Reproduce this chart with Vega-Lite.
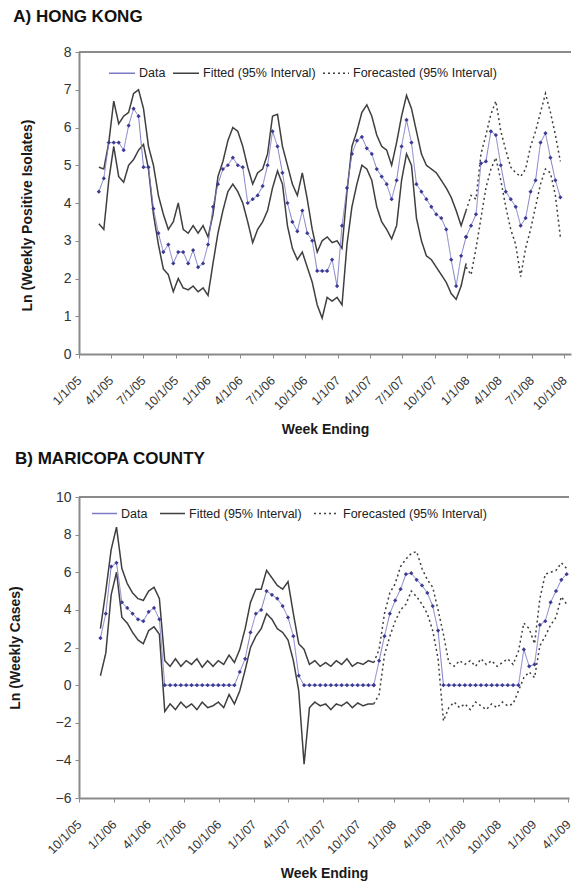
{
  "$schema": "https://vega.github.io/schema/vega-lite/v6.json",
  "background": "#ffffff",
  "padding": {"left": 8, "top": 8, "right": 0, "bottom": 0},
  "spacing": 13,
  "config": {
    "font": "Liberation Sans",
    "view": {"stroke": null},
    "axis": {"domainColor": "#8a8a8a", "domainWidth": 2, "tickColor": "#8a8a8a", "tickWidth": 1, "tickSize": 4, "labelColor": "#333333", "labelFont": "Liberation Sans", "titleFont": "Liberation Sans", "titleFontWeight": "bold", "titleFontSize": 14, "titleColor": "#1a1a1a", "grid": false, "labelFontSize": 12},
    "axisX": {"labelFontSize": 12.5, "labelPadding": 20},
    "legend": {"labelFont": "Liberation Sans", "labelFontSize": 12.5, "labelColor": "#222222"},
    "title": {"font": "Liberation Sans", "fontSize": 17, "fontWeight": "bold", "color": "#111111", "anchor": "start", "frame": "bounds"}
  },
  "resolve": {"scale": {"x": "independent", "y": "independent", "color": "independent", "strokeDash": "independent"}, "legend": {"color": "independent", "strokeDash": "independent"}},
  "datasets": {
    "A": [
      {"d":"2005-02-26","y":4.3,"l":3.45,"h":4.95,"k":"F"},
      {"d":"2005-03-12","y":4.65,"l":3.3,"h":4.9,"k":"F"},
      {"d":"2005-03-26","y":5.6,"l":4.6,"h":5.6,"k":"F"},
      {"d":"2005-04-09","y":5.6,"l":5.5,"h":6.7,"k":"F"},
      {"d":"2005-04-23","y":5.6,"l":4.7,"h":6.1,"k":"F"},
      {"d":"2005-05-07","y":5.4,"l":4.55,"h":6.3,"k":"F"},
      {"d":"2005-05-21","y":6.05,"l":5.0,"h":6.4,"k":"F"},
      {"d":"2005-06-04","y":6.5,"l":5.15,"h":6.9,"k":"F"},
      {"d":"2005-06-18","y":6.3,"l":5.4,"h":7.0,"k":"F"},
      {"d":"2005-07-02","y":4.95,"l":5.55,"h":6.5,"k":"F"},
      {"d":"2005-07-16","y":4.95,"l":4.9,"h":5.5,"k":"F"},
      {"d":"2005-07-30","y":3.85,"l":3.7,"h":5.0,"k":"F"},
      {"d":"2005-08-13","y":3.2,"l":2.9,"h":4.2,"k":"F"},
      {"d":"2005-08-27","y":2.7,"l":2.25,"h":3.7,"k":"F"},
      {"d":"2005-09-10","y":2.9,"l":2.1,"h":3.3,"k":"F"},
      {"d":"2005-09-24","y":2.4,"l":1.65,"h":3.5,"k":"F"},
      {"d":"2005-10-08","y":2.7,"l":2.0,"h":4.0,"k":"F"},
      {"d":"2005-10-22","y":2.7,"l":1.75,"h":3.3,"k":"F"},
      {"d":"2005-11-05","y":2.4,"l":1.7,"h":3.2,"k":"F"},
      {"d":"2005-11-19","y":2.75,"l":1.8,"h":3.4,"k":"F"},
      {"d":"2005-12-03","y":2.3,"l":1.65,"h":3.2,"k":"F"},
      {"d":"2005-12-17","y":2.4,"l":1.75,"h":3.4,"k":"F"},
      {"d":"2005-12-31","y":2.9,"l":1.55,"h":3.1,"k":"F"},
      {"d":"2006-01-14","y":3.9,"l":2.4,"h":3.7,"k":"F"},
      {"d":"2006-01-28","y":4.5,"l":3.2,"h":4.7,"k":"F"},
      {"d":"2006-02-11","y":4.9,"l":3.8,"h":5.1,"k":"F"},
      {"d":"2006-02-25","y":5.0,"l":4.3,"h":5.65,"k":"F"},
      {"d":"2006-03-11","y":5.2,"l":4.5,"h":6.0,"k":"F"},
      {"d":"2006-03-25","y":5.0,"l":4.3,"h":5.9,"k":"F"},
      {"d":"2006-04-08","y":4.95,"l":4.0,"h":5.5,"k":"F"},
      {"d":"2006-04-22","y":4.0,"l":3.5,"h":4.95,"k":"F"},
      {"d":"2006-05-06","y":4.1,"l":2.95,"h":4.5,"k":"F"},
      {"d":"2006-05-20","y":4.2,"l":3.3,"h":4.8,"k":"F"},
      {"d":"2006-06-03","y":4.45,"l":3.5,"h":4.9,"k":"F"},
      {"d":"2006-06-17","y":5.0,"l":3.8,"h":5.3,"k":"F"},
      {"d":"2006-07-01","y":5.9,"l":4.4,"h":6.3,"k":"F"},
      {"d":"2006-07-15","y":5.5,"l":4.85,"h":6.35,"k":"F"},
      {"d":"2006-07-29","y":4.8,"l":4.5,"h":5.5,"k":"F"},
      {"d":"2006-08-12","y":4.0,"l":3.4,"h":5.0,"k":"F"},
      {"d":"2006-08-26","y":3.5,"l":2.8,"h":4.5,"k":"F"},
      {"d":"2006-09-09","y":3.25,"l":2.5,"h":4.2,"k":"F"},
      {"d":"2006-09-23","y":3.8,"l":2.7,"h":4.8,"k":"F"},
      {"d":"2006-10-07","y":3.2,"l":2.3,"h":4.1,"k":"F"},
      {"d":"2006-10-21","y":3.0,"l":1.9,"h":3.3,"k":"F"},
      {"d":"2006-11-04","y":2.2,"l":1.3,"h":2.7,"k":"F"},
      {"d":"2006-11-18","y":2.2,"l":0.95,"h":3.0,"k":"F"},
      {"d":"2006-12-02","y":2.2,"l":1.5,"h":3.1,"k":"F"},
      {"d":"2006-12-16","y":2.5,"l":1.4,"h":2.95,"k":"F"},
      {"d":"2006-12-30","y":1.8,"l":1.5,"h":3.0,"k":"F"},
      {"d":"2007-01-13","y":3.4,"l":1.3,"h":2.8,"k":"F"},
      {"d":"2007-01-27","y":4.4,"l":2.9,"h":4.3,"k":"F"},
      {"d":"2007-02-10","y":5.3,"l":3.9,"h":5.5,"k":"F"},
      {"d":"2007-02-24","y":5.65,"l":4.5,"h":5.9,"k":"F"},
      {"d":"2007-03-10","y":5.75,"l":5.0,"h":6.4,"k":"F"},
      {"d":"2007-03-24","y":5.45,"l":4.9,"h":6.6,"k":"F"},
      {"d":"2007-04-07","y":5.3,"l":4.6,"h":6.3,"k":"F"},
      {"d":"2007-04-21","y":4.9,"l":3.9,"h":5.8,"k":"F"},
      {"d":"2007-05-05","y":4.7,"l":3.5,"h":5.5,"k":"F"},
      {"d":"2007-05-19","y":4.5,"l":3.3,"h":5.4,"k":"F"},
      {"d":"2007-06-02","y":4.1,"l":3.05,"h":5.0,"k":"F"},
      {"d":"2007-06-16","y":4.6,"l":3.4,"h":5.6,"k":"F"},
      {"d":"2007-06-30","y":5.5,"l":4.6,"h":6.3,"k":"F"},
      {"d":"2007-07-14","y":6.2,"l":5.3,"h":6.85,"k":"F"},
      {"d":"2007-07-28","y":5.6,"l":5.0,"h":6.5,"k":"F"},
      {"d":"2007-08-11","y":4.5,"l":3.6,"h":5.9,"k":"F"},
      {"d":"2007-08-25","y":4.3,"l":3.0,"h":5.3,"k":"F"},
      {"d":"2007-09-08","y":4.1,"l":2.6,"h":5.0,"k":"F"},
      {"d":"2007-09-22","y":3.9,"l":2.5,"h":4.9,"k":"F"},
      {"d":"2007-10-06","y":3.7,"l":2.3,"h":4.8,"k":"F"},
      {"d":"2007-10-20","y":3.6,"l":2.1,"h":4.6,"k":"F"},
      {"d":"2007-11-03","y":3.3,"l":1.9,"h":4.4,"k":"F"},
      {"d":"2007-11-17","y":2.5,"l":1.6,"h":4.15,"k":"F"},
      {"d":"2007-12-01","y":1.8,"l":1.45,"h":3.8,"k":"F"},
      {"d":"2007-12-15","y":2.6,"l":1.8,"h":3.4,"k":"F"},
      {"d":"2007-12-29","y":3.1,"l":2.4,"h":3.8,"k":"F"},
      {"d":"2007-12-29","y":3.1,"l":2.3,"h":3.8,"k":"P"},
      {"d":"2008-01-12","y":3.4,"l":2.1,"h":4.2,"k":"P"},
      {"d":"2008-01-26","y":3.7,"l":2.8,"h":4.1,"k":"P"},
      {"d":"2008-02-09","y":5.05,"l":3.6,"h":5.3,"k":"P"},
      {"d":"2008-02-23","y":5.1,"l":4.4,"h":5.8,"k":"P"},
      {"d":"2008-03-08","y":5.9,"l":4.9,"h":6.35,"k":"P"},
      {"d":"2008-03-22","y":5.8,"l":5.2,"h":6.7,"k":"P"},
      {"d":"2008-04-05","y":5.0,"l":4.6,"h":5.9,"k":"P"},
      {"d":"2008-04-19","y":4.3,"l":3.9,"h":5.4,"k":"P"},
      {"d":"2008-05-03","y":4.1,"l":3.3,"h":4.95,"k":"P"},
      {"d":"2008-05-17","y":3.9,"l":2.9,"h":4.8,"k":"P"},
      {"d":"2008-05-31","y":3.4,"l":2.05,"h":4.7,"k":"P"},
      {"d":"2008-06-14","y":3.6,"l":2.8,"h":4.9,"k":"P"},
      {"d":"2008-06-28","y":4.3,"l":3.3,"h":5.5,"k":"P"},
      {"d":"2008-07-12","y":4.6,"l":3.9,"h":5.9,"k":"P"},
      {"d":"2008-07-26","y":5.6,"l":4.5,"h":6.4,"k":"P"},
      {"d":"2008-08-09","y":5.85,"l":4.9,"h":6.9,"k":"P"},
      {"d":"2008-08-23","y":5.2,"l":4.8,"h":6.4,"k":"P"},
      {"d":"2008-09-06","y":4.6,"l":4.2,"h":5.8,"k":"P"},
      {"d":"2008-09-20","y":4.15,"l":3.1,"h":5.1,"k":"P"}
    ],
    "B": [
      {"d":"2005-11-26","y":2.5,"l":0.5,"h":3.0,"k":"F"},
      {"d":"2005-12-10","y":3.8,"l":1.7,"h":5.0,"k":"F"},
      {"d":"2005-12-24","y":6.3,"l":4.8,"h":7.2,"k":"F"},
      {"d":"2006-01-07","y":6.5,"l":6.0,"h":8.4,"k":"F"},
      {"d":"2006-01-21","y":4.4,"l":3.6,"h":6.2,"k":"F"},
      {"d":"2006-02-04","y":4.1,"l":3.3,"h":5.4,"k":"F"},
      {"d":"2006-02-18","y":3.8,"l":2.8,"h":4.9,"k":"F"},
      {"d":"2006-03-04","y":3.5,"l":2.4,"h":4.6,"k":"F"},
      {"d":"2006-03-18","y":3.4,"l":2.2,"h":4.5,"k":"F"},
      {"d":"2006-04-01","y":3.9,"l":2.9,"h":5.0,"k":"F"},
      {"d":"2006-04-15","y":4.1,"l":3.1,"h":5.2,"k":"F"},
      {"d":"2006-04-29","y":3.5,"l":2.7,"h":4.6,"k":"F"},
      {"d":"2006-05-13","y":0,"l":-1.4,"h":1.3,"k":"F"},
      {"d":"2006-05-27","y":0,"l":-1.0,"h":1.0,"k":"F"},
      {"d":"2006-06-10","y":0,"l":-1.3,"h":1.4,"k":"F"},
      {"d":"2006-06-24","y":0,"l":-0.9,"h":1.0,"k":"F"},
      {"d":"2006-07-08","y":0,"l":-1.2,"h":1.3,"k":"F"},
      {"d":"2006-07-22","y":0,"l":-1.0,"h":1.1,"k":"F"},
      {"d":"2006-08-05","y":0,"l":-1.3,"h":1.4,"k":"F"},
      {"d":"2006-08-19","y":0,"l":-0.9,"h":0.95,"k":"F"},
      {"d":"2006-09-02","y":0,"l":-1.2,"h":1.3,"k":"F"},
      {"d":"2006-09-16","y":0,"l":-1.1,"h":1.0,"k":"F"},
      {"d":"2006-09-30","y":0,"l":-0.9,"h":1.3,"k":"F"},
      {"d":"2006-10-14","y":0,"l":-1.2,"h":1.1,"k":"F"},
      {"d":"2006-10-28","y":0,"l":-0.5,"h":1.6,"k":"F"},
      {"d":"2006-11-11","y":0,"l":-1.0,"h":1.2,"k":"F"},
      {"d":"2006-11-25","y":0.7,"l":-0.3,"h":1.9,"k":"F"},
      {"d":"2006-12-09","y":1.4,"l":0.8,"h":3.0,"k":"F"},
      {"d":"2006-12-23","y":2.8,"l":2.0,"h":4.4,"k":"F"},
      {"d":"2007-01-06","y":3.8,"l":2.6,"h":5.1,"k":"F"},
      {"d":"2007-01-20","y":4.0,"l":3.0,"h":5.1,"k":"F"},
      {"d":"2007-02-03","y":5.0,"l":3.8,"h":6.1,"k":"F"},
      {"d":"2007-02-17","y":4.8,"l":3.5,"h":5.7,"k":"F"},
      {"d":"2007-03-03","y":4.6,"l":3.0,"h":5.3,"k":"F"},
      {"d":"2007-03-17","y":4.2,"l":2.8,"h":5.1,"k":"F"},
      {"d":"2007-03-31","y":3.6,"l":2.4,"h":5.5,"k":"F"},
      {"d":"2007-04-14","y":2.6,"l":1.3,"h":3.8,"k":"F"},
      {"d":"2007-04-28","y":0.5,"l":-0.3,"h":2.2,"k":"F"},
      {"d":"2007-05-12","y":0,"l":-4.2,"h":1.9,"k":"F"},
      {"d":"2007-05-26","y":0,"l":-1.2,"h":1.1,"k":"F"},
      {"d":"2007-06-09","y":0,"l":-0.9,"h":1.3,"k":"F"},
      {"d":"2007-06-23","y":0,"l":-1.1,"h":1.0,"k":"F"},
      {"d":"2007-07-07","y":0,"l":-1.0,"h":1.2,"k":"F"},
      {"d":"2007-07-21","y":0,"l":-1.3,"h":1.0,"k":"F"},
      {"d":"2007-08-04","y":0,"l":-1.0,"h":1.3,"k":"F"},
      {"d":"2007-08-18","y":0,"l":-1.1,"h":1.1,"k":"F"},
      {"d":"2007-09-01","y":0,"l":-0.9,"h":1.4,"k":"F"},
      {"d":"2007-09-15","y":0,"l":-1.2,"h":1.0,"k":"F"},
      {"d":"2007-09-29","y":0,"l":-0.95,"h":1.2,"k":"F"},
      {"d":"2007-10-13","y":0,"l":-1.1,"h":1.1,"k":"F"},
      {"d":"2007-10-27","y":0,"l":-1.0,"h":1.3,"k":"F"},
      {"d":"2007-11-10","y":0,"l":-1.0,"h":1.2,"k":"F"},
      {"d":"2007-11-10","y":0,"l":-1.0,"h":1.2,"k":"P"},
      {"d":"2007-11-24","y":1.3,"l":-0.5,"h":1.9,"k":"P"},
      {"d":"2007-12-08","y":2.6,"l":1.6,"h":3.8,"k":"P"},
      {"d":"2007-12-22","y":3.8,"l":2.6,"h":4.9,"k":"P"},
      {"d":"2008-01-05","y":4.5,"l":3.4,"h":5.4,"k":"P"},
      {"d":"2008-01-19","y":5.1,"l":4.0,"h":6.3,"k":"P"},
      {"d":"2008-02-02","y":5.9,"l":4.3,"h":6.7,"k":"P"},
      {"d":"2008-02-16","y":5.95,"l":5.0,"h":7.0,"k":"P"},
      {"d":"2008-03-01","y":5.6,"l":4.7,"h":7.1,"k":"P"},
      {"d":"2008-03-15","y":5.3,"l":4.3,"h":6.2,"k":"P"},
      {"d":"2008-03-29","y":4.9,"l":3.8,"h":5.6,"k":"P"},
      {"d":"2008-04-12","y":4.2,"l":2.9,"h":5.2,"k":"P"},
      {"d":"2008-04-26","y":2.9,"l":1.4,"h":4.0,"k":"P"},
      {"d":"2008-05-10","y":0,"l":-1.9,"h":2.7,"k":"P"},
      {"d":"2008-05-24","y":0,"l":-1.2,"h":1.2,"k":"P"},
      {"d":"2008-06-07","y":0,"l":-0.9,"h":1.0,"k":"P"},
      {"d":"2008-06-21","y":0,"l":-1.2,"h":1.3,"k":"P"},
      {"d":"2008-07-05","y":0,"l":-1.0,"h":1.1,"k":"P"},
      {"d":"2008-07-19","y":0,"l":-1.3,"h":1.3,"k":"P"},
      {"d":"2008-08-02","y":0,"l":-0.9,"h":1.0,"k":"P"},
      {"d":"2008-08-16","y":0,"l":-1.1,"h":1.4,"k":"P"},
      {"d":"2008-08-30","y":0,"l":-1.3,"h":1.1,"k":"P"},
      {"d":"2008-09-13","y":0,"l":-1.0,"h":1.3,"k":"P"},
      {"d":"2008-09-27","y":0,"l":-1.2,"h":1.0,"k":"P"},
      {"d":"2008-10-11","y":0,"l":-0.9,"h":1.2,"k":"P"},
      {"d":"2008-10-25","y":0,"l":-1.1,"h":1.4,"k":"P"},
      {"d":"2008-11-08","y":0,"l":-1.0,"h":1.1,"k":"P"},
      {"d":"2008-11-22","y":0,"l":-0.3,"h":1.8,"k":"P"},
      {"d":"2008-12-06","y":1.9,"l":0.4,"h":3.3,"k":"P"},
      {"d":"2008-12-20","y":1.0,"l":0.7,"h":3.0,"k":"P"},
      {"d":"2009-01-03","y":1.1,"l":0.4,"h":2.2,"k":"P"},
      {"d":"2009-01-17","y":3.2,"l":2.1,"h":4.6,"k":"P"},
      {"d":"2009-01-31","y":3.4,"l":2.6,"h":5.9,"k":"P"},
      {"d":"2009-02-14","y":4.4,"l":3.2,"h":6.0,"k":"P"},
      {"d":"2009-02-28","y":5.0,"l":3.6,"h":6.1,"k":"P"},
      {"d":"2009-03-14","y":5.6,"l":4.7,"h":6.5,"k":"P"},
      {"d":"2009-03-28","y":5.9,"l":4.3,"h":6.2,"k":"P"}
    ]
  },
  "vconcat": [
    {
      "title": {"text": "A)  HONG KONG", "dx": -7, "offset": 19},
      "width": 492,
      "height": 302,
      "layer": [
        {
          "data": {"values": [{}]},
          "mark": {"type": "rule", "color": "#8a8a8a", "strokeWidth": 2},
          "encoding": {"y": {"datum": 8, "type": "quantitative", "scale": {"domain": [0, 8]}, "axis": {"title": "Ln (Weekly Positive Isolates)", "titlePadding": 29, "titleY": 163, "values": [0,1,2,3,4,5,6,7,8], "labelFontSize": 14, "labelPadding": 4}}}
        },
        {
          "data": {"name": "A"},
          "transform": [{"fold": ["l", "h"], "as": ["g", "v"]}],
          "mark": {"type": "line", "strokeWidth": 1.5},
          "encoding": {
            "x": {"field": "d", "type": "temporal", "scale": {"type": "utc", "domain": [{"year": 2005, "month": 1, "date": 1, "utc": true}, {"year": 2008, "month": 10, "date": 20, "utc": true}]},
              "axis": {"title": "Week Ending", "titlePadding": 10, "labelExpr": "utcFormat(datum.value, '%-m/%-d/%y')", "labelAngle": -45, "labelAlign": "right", "labelBaseline": "middle", "labelFlush": false, "labelOverlap": false, "labelBound": false,
                "values": [{"year":2005,"month":1,"date":1,"utc":true},{"year":2005,"month":4,"date":1,"utc":true},{"year":2005,"month":7,"date":1,"utc":true},{"year":2005,"month":10,"date":1,"utc":true},{"year":2006,"month":1,"date":1,"utc":true},{"year":2006,"month":4,"date":1,"utc":true},{"year":2006,"month":7,"date":1,"utc":true},{"year":2006,"month":10,"date":1,"utc":true},{"year":2007,"month":1,"date":1,"utc":true},{"year":2007,"month":4,"date":1,"utc":true},{"year":2007,"month":7,"date":1,"utc":true},{"year":2007,"month":10,"date":1,"utc":true},{"year":2008,"month":1,"date":1,"utc":true},{"year":2008,"month":4,"date":1,"utc":true},{"year":2008,"month":7,"date":1,"utc":true},{"year":2008,"month":10,"date":1,"utc":true}]}},
            "y": {"field": "v", "type": "quantitative", "scale": {"domain": [0, 8]},
              "axis": {"title": "Ln (Weekly Positive Isolates)", "titlePadding": 29, "titleY": 163, "values": [0,1,2,3,4,5,6,7,8], "labelFontSize": 14, "labelPadding": 4}},
            "color": {"field": "k", "type": "nominal", "scale": {"domain": ["Data", "F", "P"], "range": ["#7b7bc6", "#3f3f3f", "#3f3f3f"]},
              "legend": {"title": null, "orient": "none", "legendX": 29, "legendY": 7, "direction": "horizontal", "symbolType": "stroke", "symbolSize": 676, "symbolStrokeWidth": 1.5, "columnPadding": 4, "labelOffset": 3,
                "labelExpr": "datum.label == 'F' ? 'Fitted (95% Interval)' : datum.label == 'P' ? 'Forecasted (95% Interval)' : datum.label"}},
            "strokeDash": {"field": "k", "type": "nominal", "scale": {"domain": ["Data", "F", "P"], "range": [[1, 0], [1, 0], [2, 3]]},
              "legend": {"title": null, "orient": "none", "legendX": 29, "legendY": 7, "direction": "horizontal", "symbolType": "stroke", "symbolSize": 676, "symbolStrokeWidth": 1.5, "columnPadding": 4, "labelOffset": 3,
                "labelExpr": "datum.label == 'F' ? 'Fitted (95% Interval)' : datum.label == 'P' ? 'Forecasted (95% Interval)' : datum.label"}},
            "detail": {"field": "g"}
          }
        },
        {
          "data": {"name": "A"},
          "mark": {"type": "line", "strokeWidth": 1},
          "encoding": {
            "x": {"field": "d", "type": "temporal", "scale": {"type": "utc", "domain": [{"year": 2005, "month": 1, "date": 1, "utc": true}, {"year": 2008, "month": 10, "date": 20, "utc": true}]},
              "axis": {"title": "Week Ending", "titlePadding": 10, "labelExpr": "utcFormat(datum.value, '%-m/%-d/%y')", "labelAngle": -45, "labelAlign": "right", "labelBaseline": "middle", "labelFlush": false, "labelOverlap": false, "labelBound": false,
                "values": [{"year":2005,"month":1,"date":1,"utc":true},{"year":2005,"month":4,"date":1,"utc":true},{"year":2005,"month":7,"date":1,"utc":true},{"year":2005,"month":10,"date":1,"utc":true},{"year":2006,"month":1,"date":1,"utc":true},{"year":2006,"month":4,"date":1,"utc":true},{"year":2006,"month":7,"date":1,"utc":true},{"year":2006,"month":10,"date":1,"utc":true},{"year":2007,"month":1,"date":1,"utc":true},{"year":2007,"month":4,"date":1,"utc":true},{"year":2007,"month":7,"date":1,"utc":true},{"year":2007,"month":10,"date":1,"utc":true},{"year":2008,"month":1,"date":1,"utc":true},{"year":2008,"month":4,"date":1,"utc":true},{"year":2008,"month":7,"date":1,"utc":true},{"year":2008,"month":10,"date":1,"utc":true}]}},
            "y": {"field": "y", "type": "quantitative", "scale": {"domain": [0, 8]},
              "axis": {"title": "Ln (Weekly Positive Isolates)", "titlePadding": 29, "titleY": 163, "values": [0,1,2,3,4,5,6,7,8], "labelFontSize": 14, "labelPadding": 4}},
            "color": {"datum": "Data", "type": "nominal"},
            "strokeDash": {"datum": "Data", "type": "nominal"}
          }
        },
        {
          "data": {"name": "A"},
          "mark": {"type": "point", "shape": "diamond", "filled": true, "size": 18, "color": "#3b3b96", "opacity": 1},
          "encoding": {
            "x": {"field": "d", "type": "temporal", "scale": {"type": "utc", "domain": [{"year": 2005, "month": 1, "date": 1, "utc": true}, {"year": 2008, "month": 10, "date": 20, "utc": true}]},
              "axis": {"title": "Week Ending", "titlePadding": 10, "labelExpr": "utcFormat(datum.value, '%-m/%-d/%y')", "labelAngle": -45, "labelAlign": "right", "labelBaseline": "middle", "labelFlush": false, "labelOverlap": false, "labelBound": false,
                "values": [{"year":2005,"month":1,"date":1,"utc":true},{"year":2005,"month":4,"date":1,"utc":true},{"year":2005,"month":7,"date":1,"utc":true},{"year":2005,"month":10,"date":1,"utc":true},{"year":2006,"month":1,"date":1,"utc":true},{"year":2006,"month":4,"date":1,"utc":true},{"year":2006,"month":7,"date":1,"utc":true},{"year":2006,"month":10,"date":1,"utc":true},{"year":2007,"month":1,"date":1,"utc":true},{"year":2007,"month":4,"date":1,"utc":true},{"year":2007,"month":7,"date":1,"utc":true},{"year":2007,"month":10,"date":1,"utc":true},{"year":2008,"month":1,"date":1,"utc":true},{"year":2008,"month":4,"date":1,"utc":true},{"year":2008,"month":7,"date":1,"utc":true},{"year":2008,"month":10,"date":1,"utc":true}]}},
            "y": {"field": "y", "type": "quantitative", "scale": {"domain": [0, 8]},
              "axis": {"title": "Ln (Weekly Positive Isolates)", "titlePadding": 29, "titleY": 163, "values": [0,1,2,3,4,5,6,7,8], "labelFontSize": 14, "labelPadding": 4}}
          }
        }
      ]
    },
    {
      "title": {"text": "B)  MARICOPA COUNTY", "dx": 7, "offset": 22},
      "width": 490,
      "height": 301,
      "layer": [
        {
          "data": {"values": [{}]},
          "mark": {"type": "rule", "color": "#8a8a8a", "strokeWidth": 2},
          "encoding": {"y": {"datum": 10, "type": "quantitative", "scale": {"domain": [-6, 10]}, "axis": {"title": "Ln (Weekly Cases)", "titlePadding": 33, "values": [-6,-4,-2,0,2,4,6,8,10], "labelFontSize": 14, "labelPadding": 4}}}
        },
        {
          "data": {"name": "B"},
          "transform": [{"fold": ["l", "h"], "as": ["g", "v"]}],
          "mark": {"type": "line", "strokeWidth": 1.5},
          "encoding": {
            "x": {"field": "d", "type": "temporal", "scale": {"type": "utc", "domain": [{"year": 2005, "month": 10, "date": 1, "utc": true}, {"year": 2009, "month": 4, "date": 3, "utc": true}]},
              "axis": {"title": "Week Ending", "titlePadding": 10, "labelExpr": "utcFormat(datum.value, '%-m/%-d/%y')", "labelAngle": -45, "labelAlign": "right", "labelBaseline": "middle", "labelFlush": false, "labelOverlap": false, "labelBound": false,
                "values": [{"year":2005,"month":10,"date":1,"utc":true},{"year":2006,"month":1,"date":1,"utc":true},{"year":2006,"month":4,"date":1,"utc":true},{"year":2006,"month":7,"date":1,"utc":true},{"year":2006,"month":10,"date":1,"utc":true},{"year":2007,"month":1,"date":1,"utc":true},{"year":2007,"month":4,"date":1,"utc":true},{"year":2007,"month":7,"date":1,"utc":true},{"year":2007,"month":10,"date":1,"utc":true},{"year":2008,"month":1,"date":1,"utc":true},{"year":2008,"month":4,"date":1,"utc":true},{"year":2008,"month":7,"date":1,"utc":true},{"year":2008,"month":10,"date":1,"utc":true},{"year":2009,"month":1,"date":1,"utc":true},{"year":2009,"month":4,"date":1,"utc":true}]}},
            "y": {"field": "v", "type": "quantitative", "scale": {"domain": [-6, 10]},
              "axis": {"title": "Ln (Weekly Cases)", "titlePadding": 33, "values": [-6,-4,-2,0,2,4,6,8,10], "labelFontSize": 14, "labelPadding": 4}},
            "color": {"field": "k", "type": "nominal", "scale": {"domain": ["Data", "F", "P"], "range": ["#7b7bc6", "#3f3f3f", "#3f3f3f"]},
              "legend": {"title": null, "orient": "none", "legendX": 12, "legendY": 3, "direction": "horizontal", "symbolType": "stroke", "symbolSize": 625, "symbolStrokeWidth": 1.5, "columnPadding": 9, "labelOffset": 3,
                "labelExpr": "datum.label == 'F' ? 'Fitted (95% Interval)' : datum.label == 'P' ? 'Forecasted (95% Interval)' : datum.label"}},
            "strokeDash": {"field": "k", "type": "nominal", "scale": {"domain": ["Data", "F", "P"], "range": [[1, 0], [1, 0], [2, 3]]},
              "legend": {"title": null, "orient": "none", "legendX": 12, "legendY": 3, "direction": "horizontal", "symbolType": "stroke", "symbolSize": 625, "symbolStrokeWidth": 1.5, "columnPadding": 9, "labelOffset": 3,
                "labelExpr": "datum.label == 'F' ? 'Fitted (95% Interval)' : datum.label == 'P' ? 'Forecasted (95% Interval)' : datum.label"}},
            "detail": {"field": "g"}
          }
        },
        {
          "data": {"name": "B"},
          "mark": {"type": "line", "strokeWidth": 1},
          "encoding": {
            "x": {"field": "d", "type": "temporal", "scale": {"type": "utc", "domain": [{"year": 2005, "month": 10, "date": 1, "utc": true}, {"year": 2009, "month": 4, "date": 3, "utc": true}]},
              "axis": {"title": "Week Ending", "titlePadding": 10, "labelExpr": "utcFormat(datum.value, '%-m/%-d/%y')", "labelAngle": -45, "labelAlign": "right", "labelBaseline": "middle", "labelFlush": false, "labelOverlap": false, "labelBound": false,
                "values": [{"year":2005,"month":10,"date":1,"utc":true},{"year":2006,"month":1,"date":1,"utc":true},{"year":2006,"month":4,"date":1,"utc":true},{"year":2006,"month":7,"date":1,"utc":true},{"year":2006,"month":10,"date":1,"utc":true},{"year":2007,"month":1,"date":1,"utc":true},{"year":2007,"month":4,"date":1,"utc":true},{"year":2007,"month":7,"date":1,"utc":true},{"year":2007,"month":10,"date":1,"utc":true},{"year":2008,"month":1,"date":1,"utc":true},{"year":2008,"month":4,"date":1,"utc":true},{"year":2008,"month":7,"date":1,"utc":true},{"year":2008,"month":10,"date":1,"utc":true},{"year":2009,"month":1,"date":1,"utc":true},{"year":2009,"month":4,"date":1,"utc":true}]}},
            "y": {"field": "y", "type": "quantitative", "scale": {"domain": [-6, 10]},
              "axis": {"title": "Ln (Weekly Cases)", "titlePadding": 33, "values": [-6,-4,-2,0,2,4,6,8,10], "labelFontSize": 14, "labelPadding": 4}},
            "color": {"datum": "Data", "type": "nominal"},
            "strokeDash": {"datum": "Data", "type": "nominal"}
          }
        },
        {
          "data": {"name": "B"},
          "mark": {"type": "point", "shape": "diamond", "filled": true, "size": 18, "color": "#3b3b96", "opacity": 1},
          "encoding": {
            "x": {"field": "d", "type": "temporal", "scale": {"type": "utc", "domain": [{"year": 2005, "month": 10, "date": 1, "utc": true}, {"year": 2009, "month": 4, "date": 3, "utc": true}]},
              "axis": {"title": "Week Ending", "titlePadding": 10, "labelExpr": "utcFormat(datum.value, '%-m/%-d/%y')", "labelAngle": -45, "labelAlign": "right", "labelBaseline": "middle", "labelFlush": false, "labelOverlap": false, "labelBound": false,
                "values": [{"year":2005,"month":10,"date":1,"utc":true},{"year":2006,"month":1,"date":1,"utc":true},{"year":2006,"month":4,"date":1,"utc":true},{"year":2006,"month":7,"date":1,"utc":true},{"year":2006,"month":10,"date":1,"utc":true},{"year":2007,"month":1,"date":1,"utc":true},{"year":2007,"month":4,"date":1,"utc":true},{"year":2007,"month":7,"date":1,"utc":true},{"year":2007,"month":10,"date":1,"utc":true},{"year":2008,"month":1,"date":1,"utc":true},{"year":2008,"month":4,"date":1,"utc":true},{"year":2008,"month":7,"date":1,"utc":true},{"year":2008,"month":10,"date":1,"utc":true},{"year":2009,"month":1,"date":1,"utc":true},{"year":2009,"month":4,"date":1,"utc":true}]}},
            "y": {"field": "y", "type": "quantitative", "scale": {"domain": [-6, 10]},
              "axis": {"title": "Ln (Weekly Cases)", "titlePadding": 33, "values": [-6,-4,-2,0,2,4,6,8,10], "labelFontSize": 14, "labelPadding": 4}}
          }
        }
      ]
    }
  ]
}
